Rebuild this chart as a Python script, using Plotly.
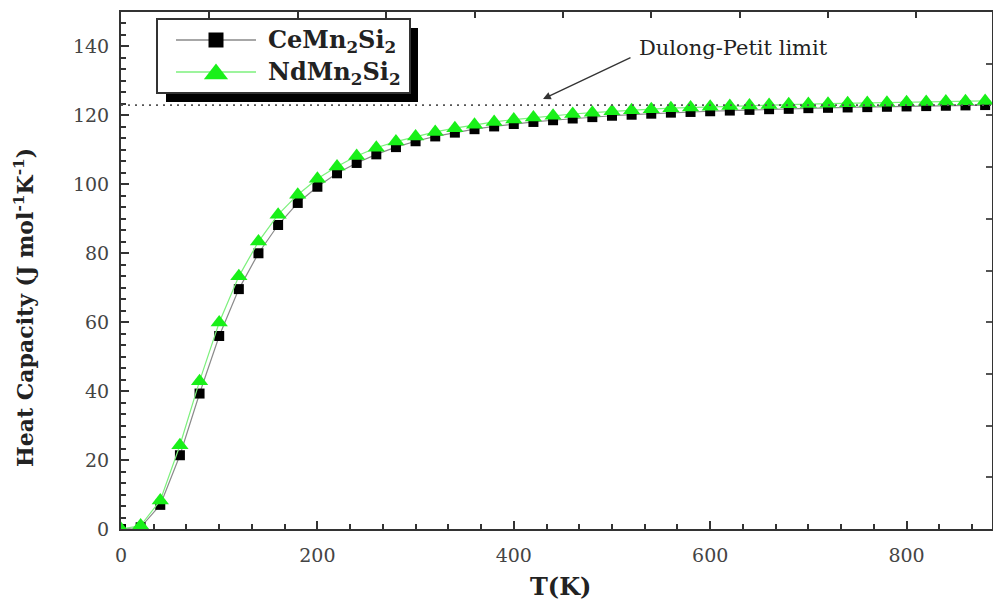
import plotly.graph_objects as go

# ---- data ----
T = [0, 20, 40, 60, 80, 100, 120, 140, 160, 180, 200, 220, 240, 260, 280, 300,
     320, 340, 360, 380, 400, 420, 440, 460, 480, 500, 520, 540, 560, 580, 600,
     620, 640, 660, 680, 700, 720, 740, 760, 780, 800, 820, 840, 860, 880]

ce_mn2si2 = [0, 0.5, 7, 21.4, 39.3, 56, 69.6, 80, 88.2, 94.6, 99.3, 103.2, 106.2,
             108.7, 110.8, 112.5, 113.9, 115, 116, 116.8, 117.5, 118.1, 118.6,
             119.1, 119.5, 119.9, 120.2, 120.5, 120.8, 121, 121.2, 121.4, 121.6,
             121.8, 121.9, 122.1, 122.2, 122.3, 122.4, 122.5, 122.6, 122.7, 122.8,
             122.9, 123.0]

nd_mn2si2 = [0, 1.0, 8.3, 24.3, 42.9, 59.9, 73.3, 83.4, 91.2, 97.0, 101.6, 105.2,
             108.2, 110.6, 112.4, 113.9, 115.2, 116.3, 117.3, 118.1, 118.8, 119.4,
             119.9, 120.4, 120.8, 121.2, 121.5, 121.8, 122.1, 122.3, 122.5, 122.7,
             122.9, 123.0, 123.2, 123.3, 123.4, 123.5, 123.6, 123.7, 123.8, 123.9,
             124.0, 124.1, 124.2]

series_names = ["<b>CeMn<sub>2</sub>Si<sub>2</sub></b>",
                "<b>NdMn<sub>2</sub>Si<sub>2</sub></b>"]
dulong_petit = 123.0
x_range = [0, 887]
y_range = [0, 150]

FONT = "DejaVu Serif"
TXT = "#222222"
AX = "#333333"
CE_LINE, CE_MARK = "#8a8a8a", "black"
ND_LINE, ND_MARK = "#7cf07c", "#19f019"

# plot area in pixels (for layout helpers: legend / titles)
L, R, TOP, BOT = 121, 992, 12, 529


def px(x):
    return (x - L) / (R - L)


def py(y):
    return (BOT - y) / (BOT - TOP)


fig = go.Figure()

fig.add_trace(go.Scatter(
    x=T, y=ce_mn2si2, mode="lines+markers", name=series_names[0],
    line=dict(color=CE_LINE, width=1.2),
    marker=dict(symbol="square", size=10, color=CE_MARK, line=dict(width=0)),
    showlegend=False,
))
fig.add_trace(go.Scatter(
    x=T, y=nd_mn2si2, mode="lines+markers", name=series_names[1],
    line=dict(color=ND_LINE, width=1.2),
    marker=dict(symbol="triangle-up", size=15, color=ND_MARK, line=dict(width=0)),
    showlegend=False,
))

# invisible trace so the mirror axes (top / right) get drawn
fig.add_trace(go.Scatter(x=[None], y=[None], xaxis="x2", yaxis="y2",
                         showlegend=False, hoverinfo="skip"))

# ---- hand-made legend (pixel-coordinate overlay axes x3/y3) ----
fig.add_shape(type="rect", xref="x3", yref="y3", x0=166, x1=418, y0=28, y1=102,
              fillcolor="black", line=dict(width=0), layer="below")
fig.add_shape(type="rect", xref="x3", yref="y3", x0=157, x1=410, y0=19, y1=93,
              fillcolor="white", line=dict(color=AX, width=2), layer="below")
legend_rows_y = [40, 72]
legend_styles = [(CE_LINE, CE_MARK, "square", 15), (ND_LINE, ND_MARK, "triangle-up", 21)]
for name, ry, (lc, mc, sym, sz) in zip(series_names, legend_rows_y, legend_styles):
    fig.add_shape(type="line", xref="x3", yref="y3", x0=176, x1=256, y0=ry, y1=ry,
                  line=dict(color=lc, width=1.3), layer="below")
    fig.add_trace(go.Scatter(x=[216], y=[ry + (2 if sym == "triangle-up" else 0)],
                             xaxis="x3", yaxis="y3", mode="markers",
                             marker=dict(symbol=sym, size=sz, color=mc, line=dict(width=0)),
                             showlegend=False, hoverinfo="skip"))
    fig.add_annotation(x=266, y=ry + 1, xref="x3", yref="y3", xanchor="left",
                       yanchor="middle", text=name, showarrow=False,
                       font=dict(family=FONT, size=24, color=TXT))

# Dulong-Petit limit line
fig.add_shape(type="line", xref="paper", yref="y", x0=0, x1=1,
              y0=dulong_petit, y1=dulong_petit,
              line=dict(color="#555555", width=1.8, dash="2px,5px"))
fig.add_annotation(
    x=543, y=99, xref="x3", yref="y3", ax=632, ay=57, axref="x3", ayref="y3",
    text="", showarrow=True, arrowhead=2, arrowsize=1.2, arrowwidth=1.3,
    arrowcolor=AX,
)
fig.add_annotation(
    x=637, y=48, xref="x3", yref="y3", xanchor="left", yanchor="middle",
    text="Dulong-Petit limit", showarrow=False,
    font=dict(family=FONT, size=21, color=TXT),
)

# axis titles (paper coords, placed precisely)
fig.add_annotation(
    x=px(24), y=py(308), xref="paper", yref="paper", xanchor="center", yanchor="middle",
    text="<b>Heat Capacity (J mol<sup>-1</sup>K<sup>-1</sup>)</b>", textangle=-90,
    showarrow=False, font=dict(family=FONT, size=22, color=TXT),
)
fig.add_annotation(
    x=px(560), y=py(586), xref="paper", yref="paper", xanchor="center", yanchor="middle",
    text="<b>T(K)</b>", showarrow=False, font=dict(family=FONT, size=24, color=TXT),
)

axis_common = dict(
    showline=True, linecolor=AX, linewidth=2,
    ticks="inside", ticklen=8, tickwidth=2, tickcolor=AX,
    showgrid=False, zeroline=False,
    tickfont=dict(family=FONT, size=19, color="#444444"),
)

fig.update_layout(
    width=993, height=603,
    margin=dict(l=L, r=993 - R, t=TOP, b=603 - BOT),
    paper_bgcolor="white", plot_bgcolor="white",
    font=dict(family=FONT),
    showlegend=False,
    xaxis=dict(range=x_range, dtick=200, tick0=0, ticklabelstandoff=8,
               minor=dict(dtick=200 / 6, ticks="inside", ticklen=5,
                          tickwidth=1.5, tickcolor=AX),
               **axis_common),
    yaxis=dict(range=y_range, dtick=20, tick0=0, ticklabelstandoff=6,
               minor=dict(dtick=20 / 6, ticks="inside", ticklen=5,
                          tickwidth=1.5, tickcolor=AX),
               **axis_common),
    xaxis2=dict(overlaying="x", side="top", anchor="y", range=x_range,
                dtick=90, tick0=0, showticklabels=False,
                showline=True, linecolor=AX, linewidth=2,
                ticks="inside", ticklen=6, tickwidth=2, tickcolor=AX,
                showgrid=False, zeroline=False),
    yaxis2=dict(overlaying="y", side="right", anchor="x", range=y_range,
                dtick=15, tick0=0, showticklabels=False,
                showline=True, linecolor=AX, linewidth=2,
                ticks="inside", ticklen=6, tickwidth=2, tickcolor="#555555",
                showgrid=False, zeroline=False),
    xaxis3=dict(overlaying="x", anchor="y3", range=[L, R], visible=False),
    yaxis3=dict(overlaying="y", anchor="x3", range=[BOT, TOP], visible=False),
)

fig.write_html("out.html")
